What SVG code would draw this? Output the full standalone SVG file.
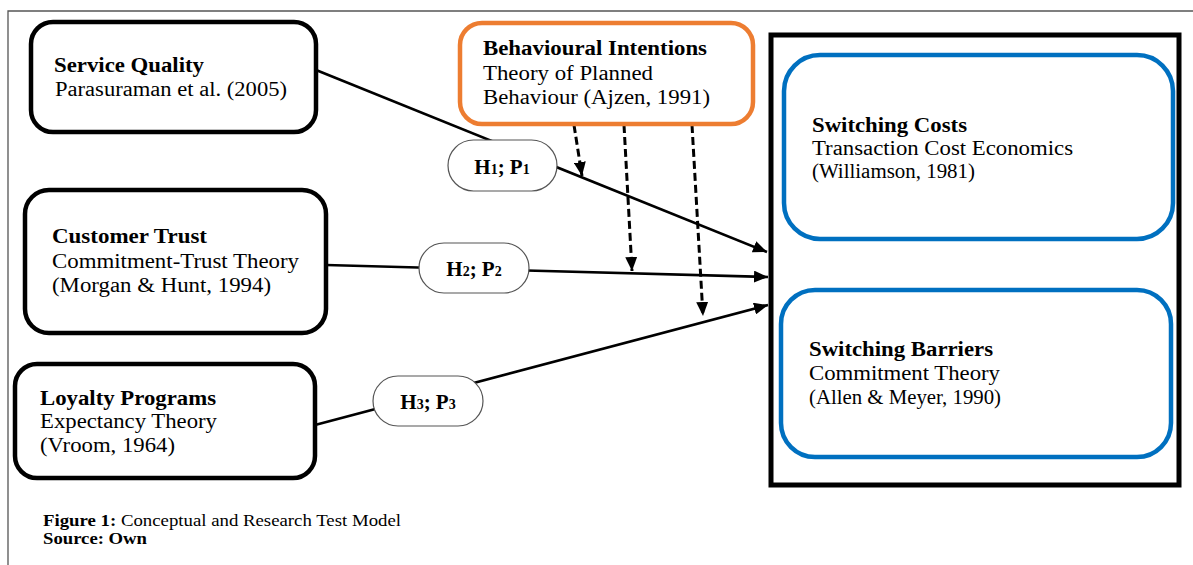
<svg xmlns="http://www.w3.org/2000/svg" width="1193" height="565" viewBox="0 0 1193 565">
<defs>
<style>
.box{fill:#fff;stroke:#000;stroke-width:4.5}
.orange{fill:#fff;stroke:#ED7D31;stroke-width:4.5}
.blue{fill:#fff;stroke:#0070C0;stroke-width:4.5}
.pill{fill:#fff;stroke:#555;stroke-width:1.2}
.t{font-family:"Liberation Serif","Times New Roman",serif;font-size:20px;fill:#000}
.b{font-weight:bold}
.h{font-family:"Liberation Serif","Times New Roman",serif;font-size:21px;font-weight:bold;fill:#000}
.cap{font-family:"Liberation Serif","Times New Roman",serif;font-size:16px;fill:#000}
.solid{stroke:#000;stroke-width:2.6;fill:none}
.dash{stroke:#000;stroke-width:3;fill:none;stroke-dasharray:8 4}
.frame{stroke:#555;stroke-width:1.3;fill:none}
</style>
<marker id="arr" markerUnits="userSpaceOnUse" markerWidth="15" markerHeight="12" refX="14" refY="6" orient="auto">
<path d="M0,0 L14,6 L0,12 z" fill="#000"/>
</marker>
</defs>
<rect width="1193" height="565" fill="#fff"/>
<path class="frame" d="M8,565 V11 H1193"/>

<g id="connectors">
<line class="solid" x1="316" y1="70" x2="767" y2="252" marker-end="url(#arr)"/>
<line class="solid" x1="326" y1="265" x2="768" y2="277" marker-end="url(#arr)"/>
<line class="solid" x1="315" y1="425" x2="768" y2="305" marker-end="url(#arr)"/>
<line class="dash" x1="574" y1="125" x2="582" y2="176" marker-end="url(#arr)"/>
<line class="dash" x1="624" y1="125" x2="632" y2="271" marker-end="url(#arr)"/>
<line class="dash" x1="692" y1="125" x2="703" y2="316" marker-end="url(#arr)"/>
</g>

<g id="service-quality">
<rect class="box" x="31" y="22" width="285" height="110" rx="22"/>
<text class="t b" x="54" y="72" textLength="150" lengthAdjust="spacingAndGlyphs">Service Quality</text>
<text class="t" x="55" y="96" textLength="232" lengthAdjust="spacingAndGlyphs">Parasuraman et al. (2005)</text>
</g>

<g id="customer-trust">
<rect class="box" x="25" y="190" width="301" height="143" rx="24"/>
<text class="t b" x="52" y="243" textLength="155" lengthAdjust="spacingAndGlyphs">Customer Trust</text>
<text class="t" x="52" y="268" textLength="247" lengthAdjust="spacingAndGlyphs">Commitment-Trust Theory</text>
<text class="t" x="52" y="292" textLength="219" lengthAdjust="spacingAndGlyphs">(Morgan &amp; Hunt, 1994)</text>
</g>

<g id="loyalty-programs">
<rect class="box" x="15" y="364" width="300" height="114" rx="22"/>
<text class="t b" x="40" y="405" textLength="176" lengthAdjust="spacingAndGlyphs">Loyalty Programs</text>
<text class="t" x="40" y="428" textLength="177" lengthAdjust="spacingAndGlyphs">Expectancy Theory</text>
<text class="t" x="40" y="452" textLength="135" lengthAdjust="spacingAndGlyphs">(Vroom, 1964)</text>
</g>

<g id="behavioural-intentions">
<rect class="orange" x="460" y="23" width="293" height="101" rx="22"/>
<text class="t b" x="483" y="55" textLength="224" lengthAdjust="spacingAndGlyphs">Behavioural Intentions</text>
<text class="t" x="483" y="80" textLength="170" lengthAdjust="spacingAndGlyphs">Theory of Planned</text>
<text class="t" x="483" y="104" textLength="227" lengthAdjust="spacingAndGlyphs">Behaviour (Ajzen, 1991)</text>
</g>

<g id="outcome-frame">
<rect x="771" y="35" width="408" height="450" fill="none" stroke="#000" stroke-width="5"/>
</g>

<g id="switching-costs">
<rect class="blue" x="784" y="55" width="389" height="184" rx="36"/>
<text class="t b" x="812" y="132" textLength="155" lengthAdjust="spacingAndGlyphs">Switching Costs</text>
<text class="t" x="812" y="155" textLength="261" lengthAdjust="spacingAndGlyphs">Transaction Cost Economics</text>
<text class="t" x="812" y="178" textLength="163" lengthAdjust="spacingAndGlyphs">(Williamson, 1981)</text>
</g>

<g id="switching-barriers">
<rect class="blue" x="781" y="290" width="390" height="167" rx="34"/>
<text class="t b" x="809" y="356" textLength="184" lengthAdjust="spacingAndGlyphs">Switching Barriers</text>
<text class="t" x="809" y="380" textLength="191" lengthAdjust="spacingAndGlyphs">Commitment Theory</text>
<text class="t" x="809" y="404" textLength="192" lengthAdjust="spacingAndGlyphs">(Allen &amp; Meyer, 1990)</text>
</g>

<g id="h1p1">
<rect class="pill" x="448" y="140" width="109" height="51" rx="25.5"/>
<text class="h" x="502" y="174" text-anchor="middle">H<tspan font-size="14">1</tspan>; P<tspan font-size="14">1</tspan></text>
</g>

<g id="h2p2">
<rect class="pill" x="419" y="243" width="110" height="50" rx="25"/>
<text class="h" x="474" y="276" text-anchor="middle">H<tspan font-size="14">2</tspan>; P<tspan font-size="14">2</tspan></text>
</g>

<g id="h3p3">
<rect class="pill" x="373" y="376" width="110" height="50" rx="25"/>
<text class="h" x="428" y="409" text-anchor="middle">H<tspan font-size="14">3</tspan>; P<tspan font-size="14">3</tspan></text>
</g>

<g id="caption">
<text class="cap" x="43" y="526" textLength="358" lengthAdjust="spacingAndGlyphs"><tspan font-weight="bold">Figure 1:</tspan> Conceptual and Research Test Model</text>
<text class="cap" x="43" y="544" font-weight="bold" textLength="104" lengthAdjust="spacingAndGlyphs">Source: Own</text>
</g>
</svg>
